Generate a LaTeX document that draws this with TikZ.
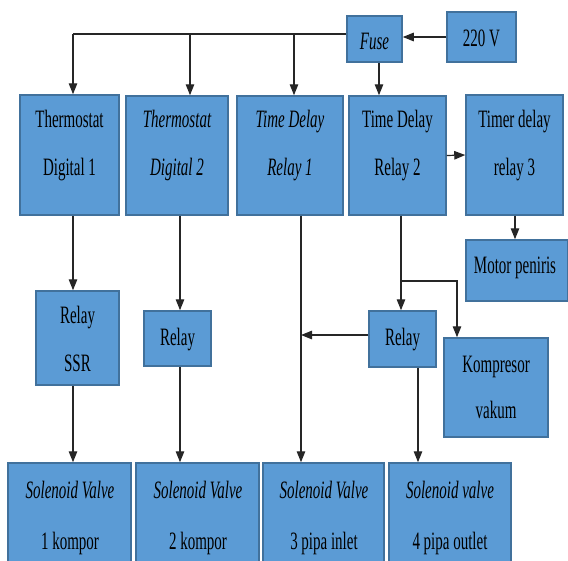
\documentclass[tikz,border=0pt]{standalone}
\usepackage{fontspec}
\setmainfont[FakeStretch=0.6]{Liberation Serif}
\usetikzlibrary{arrows.meta,calc}
\definecolor{boxfill}{HTML}{5B9BD5}
\definecolor{boxline}{HTML}{41719C}
\begin{document}
\begin{tikzpicture}[x=1pt,y=-1pt,
  box/.style={draw=boxline,fill=boxfill,line width=1.5pt,inner sep=0pt},
  txt/.style={anchor=base,inner sep=0pt,font=\fontsize{25}{30}\selectfont},
  itxt/.style={txt,font=\fontsize{25}{30}\selectfont\itshape},
  conn/.style={line width=1.2pt,draw=black!85},
  arr/.style={conn,-{Triangle[length=11pt,width=8.5pt]}}]
\useasboundingbox (0,0) rectangle (568,560);
\clip (0,0) rectangle (568,560);
% boxes
\node[box,minimum width=55pt,minimum height=46pt] (fuse) at (374.5,39) {};
\node[box,minimum width=69pt,minimum height=50pt] (v220) at (481.5,37) {};
\node[box,minimum width=99pt,minimum height=120pt] (td1) at (69.5,155) {};
\node[box,minimum width=102pt,minimum height=119pt] (td2) at (177,155.5) {};
\node[box,minimum width=106pt,minimum height=119pt] (tdr1) at (290,155.5) {};
\node[box,minimum width=97pt,minimum height=119pt] (tdr2) at (397.5,155.5) {};
\node[box,minimum width=97pt,minimum height=120pt] (tr3) at (514.5,155) {};
\node[box,minimum width=102pt,minimum height=61pt] (motor) at (517,270.5) {};
\node[box,minimum width=83pt,minimum height=94pt] (rssr) at (77.5,338) {};
\node[box,minimum width=67pt,minimum height=55pt] (relay2) at (177.5,338.5) {};
\node[box,minimum width=67pt,minimum height=56pt] (relay3) at (402.5,339) {};
\node[box,minimum width=104pt,minimum height=99pt] (komp) at (496,387.5) {};
\node[box,minimum width=123pt,minimum height=100pt] (s1) at (69.5,513) {};
\node[box,minimum width=123pt,minimum height=100pt] (s2) at (197.5,513) {};
\node[box,minimum width=121pt,minimum height=100pt] (s3) at (323.5,513) {};
\node[box,minimum width=122pt,minimum height=100pt] (s4) at (450,513) {};
% texts
\node[itxt] (fuset) at (374.5,49) {Fuse};
\node[txt] (v220t) at (481.5,46) {220 V};
\node[txt] (td1a) at (69.5,127) {Thermostat};
\node[txt] (td1b) at (69.5,175) {Digital 1};
\node[itxt] (td2a) at (177,127) {Thermostat};
\node[itxt] (td2b) at (177,175) {Digital 2};
\node[itxt] (tdr1a) at (290,127) {Time Delay};
\node[itxt] (tdr1b) at (290,175) {Relay 1};
\node[txt] (tdr2a) at (397.5,127) {Time Delay};
\node[txt] (tdr2b) at (397.5,175) {Relay 2};
\node[txt] (tr3a) at (514.5,127) {Timer delay};
\node[txt] (tr3b) at (514.5,175) {relay 3};
\node[txt] (motort) at (515,273) {Motor peniris};
\node[txt] (rssra) at (77.5,323) {Relay};
\node[txt] (rssrb) at (77.5,371) {SSR};
\node[txt] (relay2t) at (177.5,345) {Relay};
\node[txt] (relay3t) at (402.5,345) {Relay};
\node[txt] (kompa) at (496,372) {Kompresor};
\node[txt] (kompb) at (496,418) {vakum};
\node[itxt] (s1a) at (70,498) {Solenoid Valve};
\node[txt] (s1b) at (70,549) {1 kompor};
\node[itxt] (s2a) at (198,498) {Solenoid Valve};
\node[txt] (s2b) at (198,549) {2 kompor};
\node[itxt] (s3a) at (324,498) {Solenoid Valve};
\node[txt] (s3b) at (324,549) {3 pipa inlet};
\node[itxt] (s4a) at (450,498) {Solenoid valve};
\node[txt] (s4b) at (450,549) {4 pipa outlet};
% coordinates for connector lines
\coordinate (j1) at (73,34);
\coordinate (j2) at (190,34);
\coordinate (j3) at (294,34);
\coordinate (xf) at (379,0);
\coordinate (xa) at (73,0);
\coordinate (xb) at (180,0);
\coordinate (xc) at (301,0);
\coordinate (xd) at (401,0);
\coordinate (xe) at (418,0);
\coordinate (xk) at (457,0);
\coordinate (xm) at (515,0);
\coordinate (kb) at (401,281);
% connectors
\draw[arr] (v220.west) -- (v220.west -| fuse.east);
\draw[conn] (j1 -| fuse.west) -- (j1);
\draw[arr] (j1) -- (j1 |- td1.north);
\draw[arr] (j2) -- (j2 |- td2.north);
\draw[arr] (j3) -- (j3 |- tdr1.north);
\draw[arr] (xf |- fuse.south) -- (xf |- tdr2.north);
\draw[arr] (tdr2.east) -- (tr3.west);
\draw[arr] (xm |- tr3.south) -- (xm |- motor.north);
\draw[arr] (xa |- td1.south) -- (xa |- rssr.north);
\draw[arr] (xb |- td2.south) -- (xb |- relay2.north);
\draw[arr] (xc |- tdr1.south) -- (xc |- s3.north);
\draw[arr] (xd |- tdr2.south) -- (xd |- relay3.north);
\draw[arr] (kb) -- (kb -| xk) -- (xk |- komp.north);
\draw[arr] ([yshift=4pt]relay3.west) -- ([yshift=4pt]relay3.west -| xc);
\draw[arr] (xe |- relay3.south) -- (xe |- s4.north);
\draw[arr] (xa |- rssr.south) -- (xa |- s1.north);
\draw[arr] (xb |- relay2.south) -- (xb |- s2.north);
\end{tikzpicture}
\end{document}
